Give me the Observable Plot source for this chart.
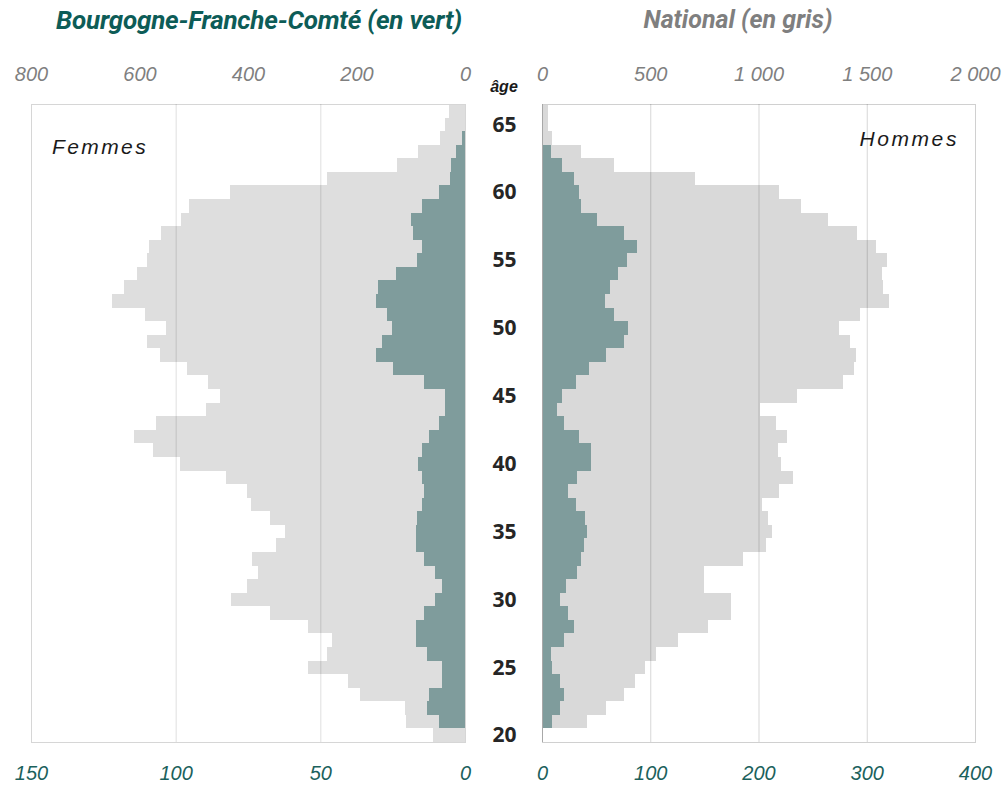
<!DOCTYPE html>
<html><head><meta charset="utf-8">
<script src="https://cdn.jsdelivr.net/npm/d3@7"></script>
<script src="https://cdn.jsdelivr.net/npm/@observablehq/plot@0.6"></script>
<style>
html,body{margin:0;padding:0;background:#fff}
body{width:1002px;height:786px;overflow:hidden;position:relative;font-family:Roboto,sans-serif}
.abs{position:absolute;white-space:nowrap;line-height:1}
#t1{left:259px;top:5px;transform:translateX(-50%);font:italic 700 26px Roboto,sans-serif;letter-spacing:-0.2px;color:#0d5c57}
#t2{left:738px;top:5px;transform:translateX(-50%);font:italic 700 25px Roboto,sans-serif;letter-spacing:0px;color:#7f7f7f}
#fem{left:52px;top:135px;font:italic 400 21px 'Liberation Sans',Arial,sans-serif;letter-spacing:2.4px;color:#1a1a1a}
#hom{right:43px;top:127px;font:italic 400 21px 'Liberation Sans',Arial,sans-serif;letter-spacing:2.6px;color:#1a1a1a}
#age{left:504px;top:78px;transform:translateX(-50%);font:italic 700 16px 'Liberation Sans',Arial,sans-serif;color:#1a1a1a}
#left{position:absolute;left:0;top:40px}
#right{position:absolute;left:470px;top:40px}
</style></head><body>
<div id="t1" class="abs">Bourgogne-Franche-Comté (en vert)</div>
<div id="t2" class="abs">National (en gris)</div>
<div id="left"></div>
<div id="right"></div>
<div id="fem" class="abs">Femmes</div>
<div id="hom" class="abs">Hommes</div>
<div id="age" class="abs">âge</div>
<script>
const ages = [20,21,22,23,24,25,26,27,28,29,30,31,32,33,34,35,36,37,38,39,40,41,42,43,44,45,46,47,48,49,50,51,52,53,54,55,56,57,58,59,60,61,62,63,64,65,66];
const femmesBFC = [0,9,13,12.3,7.8,7.8,13,17,17,14.3,10.3,7.8,10.3,14.3,17,17,16.7,15,14.3,15,16.4,15,12.3,9,7,7,14.3,25,30.8,28.8,25.1,27,30.8,30.2,24,16.7,15,18.1,18.8,14.8,8.9,5.3,4.8,3.1,1.1,0,0];
const femmesNational = [59,108,111,193,215,289,254,246,289,359,431,402,381,392,349,332,359,395,402,441,526,576,611,569,477,452,473,513,562,586,551,590,651,628,604,586,582,561,523,508,434,254,125,86,47,36,30];
const hommesBFC = [0,9.5,16.6,20.3,16.9,9.5,8,20.3,29.3,24,16.9,22.2,32.6,36.4,38.5,41.6,40,31.1,24,32.6,45.3,45.3,34.5,20.3,13.5,18.5,31.1,43.4,59.4,75.4,79.1,66.5,57.9,62.8,70.2,78.8,87.8,75.8,50.5,36,34.5,29.3,18.2,8.3,0,0,0];
const hommesNational = [0,208,297,377,430,474,527,627,767,873,873,750,750,928,1033,1061,1042,1015,1096,1159,1105,1089,1132,1079,1007,1176,1389,1443,1452,1424,1372,1469,1601,1577,1569,1594,1541,1453,1320,1195,1096,707,333,180,48,29,29];
const ageTicks = [20,25,30,35,40,45,50,55,60,65];
const leftTopTicks = [800,600,400,200,0];
const leftBottomTicks = [150,100,50,0];
const rightTopTicks = [0,500,1000,1500,2000];
const rightBottomTicks = [0,100,200,300,400];
const leftGrid = [100,50];
const rightGrid = [100,200,300];

const leftRatio = 800/150, rightRatio = 2000/400;
const rows = ages.map((age,i)=>({age, fB:femmesBFC[i], fN:femmesNational[i], hB:hommesBFC[i], hN:hommesNational[i]}));
const yDomain = ages.slice().reverse();
const fmt = d3.formatLocale({decimal:",", thousands:"\u00a0", grouping:[3], currency:["",""]}).format(",");
const green = "#7f9c9c";
const teal = "#1b615c";
const grayTxt = "#7f7f7f";

const common = {
  height: 746, marginTop: 64, marginBottom: 44,
  y: {type:"band", domain:yDomain, padding:0, round:false, axis:null},
  style: {fontFamily:"'Liberation Sans', Arial, sans-serif", fontSize:"20px", fontStyle:"italic", background:"transparent", overflow:"visible"}
};

const left = Plot.plot({
  ...common, width:490, marginLeft:31, marginRight:25,
  x: {domain:[0,150], reverse:true, axis:null},
  marks: [
    Plot.barX(rows, {y:"age", x:d=>d.fN/leftRatio, fill:"#dedede", shapeRendering:"crispEdges"}),
    Plot.frame({stroke:"#d6d6d6"}),
    Plot.ruleX(leftGrid, {stroke:"#000", strokeOpacity:0.13}),
    Plot.barX(rows, {y:"age", x:"fB", fill:green, shapeRendering:"crispEdges"}),
    Plot.axisX(leftBottomTicks, {anchor:"bottom", label:null, tickSize:0, tickPadding:23, color:teal, tickFormat:d=>fmt(d)}),
    Plot.axisX(leftTopTicks.map(v=>v/leftRatio), {anchor:"top", label:null, tickSize:0, tickPadding:24, color:grayTxt, tickFormat:d=>fmt(Math.round(d*leftRatio))})
  ]
});

const right = Plot.plot({
  ...common, width:532, marginLeft:72, marginRight:27,
  x: {domain:[0,400], axis:null},
  marks: [
    Plot.barX(rows, {y:"age", x:d=>d.hN/rightRatio, fill:"#d9d9d9", shapeRendering:"crispEdges"}),
    Plot.frame({stroke:"#d0d0d0"}),
    Plot.ruleX(rightGrid, {stroke:"#000", strokeOpacity:0.16}),
    Plot.barX(rows, {y:"age", x:"hB", fill:green, shapeRendering:"crispEdges"}),
    Plot.ruleX([0], {stroke:"#a8a8a8"}),
    Plot.axisX(rightBottomTicks, {anchor:"bottom", label:null, tickSize:0, tickPadding:23, color:teal, tickFormat:d=>fmt(d)}),
    Plot.axisX(rightTopTicks.map(v=>v/rightRatio), {anchor:"top", label:null, tickSize:0, tickPadding:24, color:grayTxt, tickFormat:d=>fmt(Math.round(d*rightRatio))}),
    Plot.text(ageTicks, {y:d=>d, text:d=>String(d), frameAnchor:"left", dx:-38, textAnchor:"middle", fontSize:21, fontWeight:"bold", fontStyle:"normal", fontFamily:"'Open Sans', sans-serif", fill:"#262626"})
  ]
});

document.getElementById("left").appendChild(left);
document.getElementById("right").appendChild(right);
</script>
</body></html>
